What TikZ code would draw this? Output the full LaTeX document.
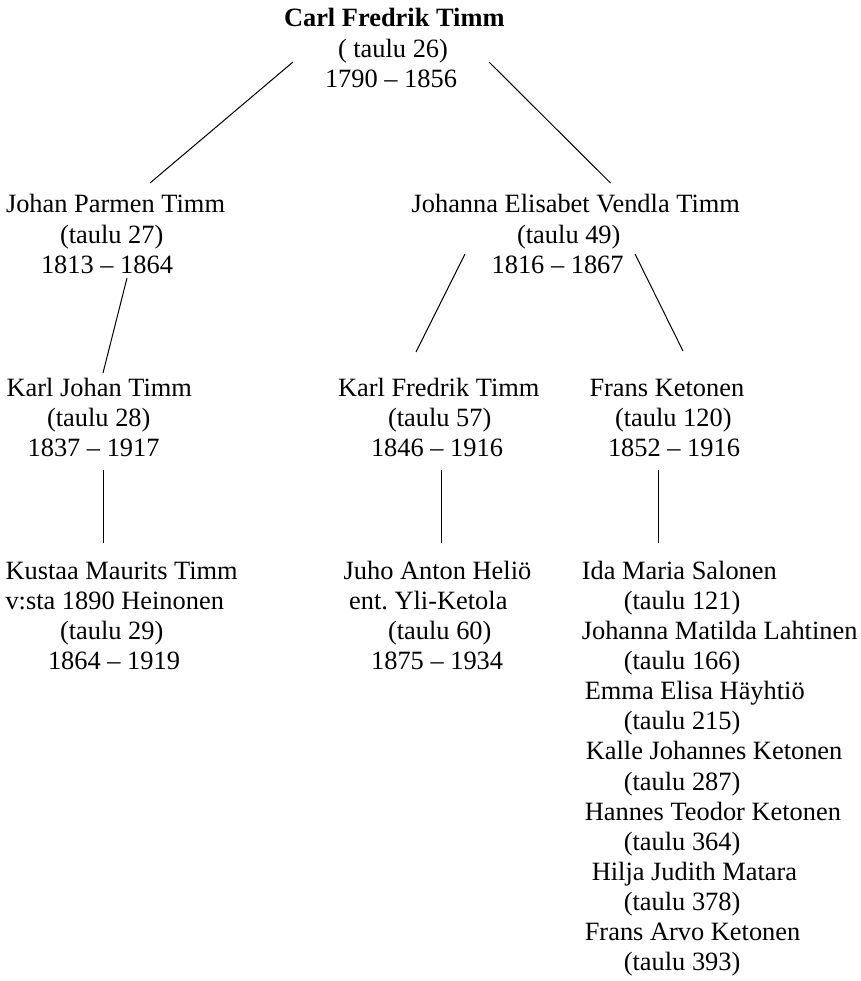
\documentclass[tikz,border=0pt]{standalone}
\usepackage{fontspec}
\setmainfont{Liberation Serif}
\frenchspacing
\begin{document}
\begin{tikzpicture}[x=1pt,y=-1pt,
  person/.style={anchor=base west,inner sep=0pt,outer sep=0pt,
    font=\fontsize{26.4}{30.15}\selectfont\frenchspacing},
  link/.style={line width=1pt,black}]
\useasboundingbox (0,0) rectangle (860,981);
\newcommand{\ind}[1]{\hspace*{#1pt}}
% persons
\node[person] (carl) at (284,27) {\begin{tabular}[t]{@{}l@{}}\textbf{Carl Fredrik Timm}\\\ind{54}( taulu 26)\\\ind{41}1790 – 1856\end{tabular}};
\node[person] (johan) at (6,213) {\begin{tabular}[t]{@{}l@{}}Johan Parmen Timm\\\ind{54}(taulu 27)\\\ind{35}1813 – 1864\end{tabular}};
\node[person] (johanna) at (411.6,213) {\begin{tabular}[t]{@{}l@{}}Johanna Elisabet Vendla Timm\\\ind{105.5}(taulu 49)\\\ind{80}1816 – 1867\end{tabular}};
\node[person] (karljohan) at (6.6,396) {\begin{tabular}[t]{@{}l@{}}Karl Johan Timm\\\ind{40.5}(taulu 28)\\\ind{21}1837 – 1917\end{tabular}};
\node[person] (karlfredrik) at (338,396) {\begin{tabular}[t]{@{}l@{}}Karl Fredrik Timm\\\ind{50}(taulu 57)\\\ind{33}1846 – 1916\end{tabular}};
\node[person] (frans) at (589.5,396) {\begin{tabular}[t]{@{}l@{}}Frans Ketonen\\\ind{25.5}(taulu 120)\\\ind{18.5}1852 – 1916\end{tabular}};
\node[person] (kustaa) at (5.5,579) {\begin{tabular}[t]{@{}l@{}}Kustaa Maurits Timm\\v:sta 1890 Heinonen\\\ind{54.5}(taulu 29)\\\ind{42.5}1864 – 1919\end{tabular}};
\node[person] (juho) at (343.6,579) {\begin{tabular}[t]{@{}l@{}}Juho Anton Heliö\\\ind{5.5}ent. Yli-Ketola\\\ind{44.5}(taulu 60)\\\ind{27.5}1875 – 1934\end{tabular}};
\node[person] (children) at (581.8,579) {\begin{tabular}[t]{@{}l@{}}Ida Maria Salonen\\\ind{42}(taulu 121)\\Johanna Matilda Lahtinen\\\ind{42}(taulu 166)\\\ind{3}Emma Elisa Häyhtiö\\\ind{42}(taulu 215)\\\ind{4}Kalle Johannes Ketonen\\\ind{42}(taulu 287)\\\ind{3}Hannes Teodor Ketonen\\\ind{42}(taulu 364)\\\ind{10}Hilja Judith Matara\\\ind{42}(taulu 378)\\\ind{3}Frans Arvo Ketonen\\\ind{42}(taulu 393)\end{tabular}};
% connector ends
\coordinate (carlL) at (293,62);
\coordinate (carlR) at (489,62);
\coordinate (johanT) at (150,183);
\coordinate (johanB) at (127,278);
\coordinate (johannaT) at (610.5,183);
\coordinate (johannaBL) at (465,254);
\coordinate (johannaBR) at (635,254);
\coordinate (karljohanT) at (103,373);
\coordinate (karljohanB) at (103,470);
\coordinate (karlfredrikT) at (416,352);
\coordinate (karlfredrikB) at (441,470);
\coordinate (fransT) at (683,351);
\coordinate (fransB) at (658.6,470);
\coordinate (kustaaT) at (103,543);
\coordinate (juhoT) at (441,543);
\coordinate (childrenT) at (658.6,543);
% connectors
\draw[link] (carlL) -- (johanT);
\draw[link] (carlR) -- (johannaT);
\draw[link] (johanB) -- (karljohanT);
\draw[link] (johannaBL) -- (karlfredrikT);
\draw[link] (johannaBR) -- (fransT);
\draw[link] (karljohanB) -- (kustaaT);
\draw[link] (karlfredrikB) -- (juhoT);
\draw[link] (fransB) -- (childrenT);
\end{tikzpicture}
\end{document}
